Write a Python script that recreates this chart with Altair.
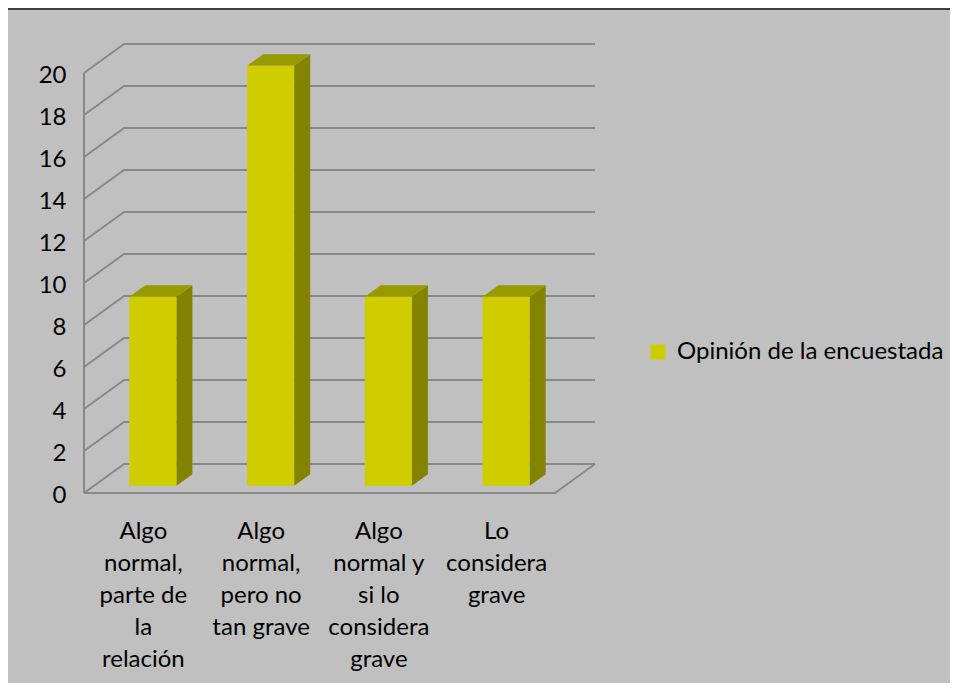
import altair as alt
import pandas as pd

# ---------------- data ----------------
categories = [
    "Algo normal, parte de la relación",
    "Algo normal, pero no tan grave",
    "Algo normal y si lo considera grave",
    "Lo considera grave",
]
label_lines = [
    "Algo|normal,|parte de|la|relación",
    "Algo|normal,|pero no|tan grave",
    "Algo|normal y|si lo|considera|grave",
    "Lo|considera|grave",
]
values = [9, 20, 9, 9]
series_name = "Opinión de la encuestada"
y_ticks = [0, 2, 4, 6, 8, 10, 12, 14, 16, 18, 20]

# ---------------- style / projection constants ----------------
DX = 0.34      # depth offset along x (category units)
DY = 1.381     # depth offset along y (value units)
T0, T1 = 0.25, 0.65   # bar front / back depth
HALF = 0.2     # half bar width (category units)
FRONT, TOP, SIDE = "#cfcc00", "#999900", "#838300"
GRID = "#888888"
BG = "#c0c0c0"
FONT = "Lato"
FS = 24
n = len(categories)

# ---------------- derived tables ----------------
grid_rows = []
for k, v in enumerate(y_ticks):
    grid_rows += [
        {"g": f"g{k}", "o": 0, "x": 0.0, "y": v},
        {"g": f"g{k}", "o": 1, "x": DX, "y": v + DY},
        {"g": f"g{k}", "o": 2, "x": n + DX, "y": v + DY},
    ]
grid_rows += [
    {"g": "edge", "o": 0, "x": 0.0, "y": y_ticks[0]},
    {"g": "edge", "o": 1, "x": 0.0, "y": y_ticks[-1]},
    {"g": "floor", "o": 0, "x": 0.0, "y": 0.0},
    {"g": "floor", "o": 1, "x": float(n), "y": 0.0},
    {"g": "floor", "o": 2, "x": n + DX, "y": DY},
]
grid_df = pd.DataFrame(grid_rows)

front_rows, side_rows, top_rows = [], [], []
for i, (c, v) in enumerate(zip(categories, values)):
    c0 = i + 0.5
    xl0, xr0 = c0 - HALF + T0 * DX, c0 + HALF + T0 * DX
    xl1, xr1 = c0 - HALF + T1 * DX, c0 + HALF + T1 * DX
    front_rows.append({"cat": c, "series": series_name, "x": xl0, "x2": xr0,
                       "y": T0 * DY, "y2": v + T0 * DY})
    side_rows += [
        {"cat": c, "x": xr0, "y": T0 * DY, "y2": v + T0 * DY},
        {"cat": c, "x": xr1, "y": T1 * DY, "y2": v + T1 * DY},
    ]
    top_rows += [
        {"cat": c, "y": v + T0 * DY, "x": xl0, "x2": xr0},
        {"cat": c, "y": v + T1 * DY, "x": xl1, "x2": xr1},
    ]
front_df = pd.DataFrame(front_rows)
side_df = pd.DataFrame(side_rows)
top_df = pd.DataFrame(top_rows)

# ---------------- scales / axes ----------------
xs = alt.Scale(domain=[0, n + DX], nice=False, zero=False)
ys = alt.Scale(domain=[0, y_ticks[-1] + DY], nice=False, zero=False)

arr = "[" + ",".join("'" + s + "'" for s in label_lines) + "]"
x_axis = alt.Axis(
    title=None, values=[i + 0.5 for i in range(n)],
    labelExpr=f"split({arr}[floor(datum.value)], '|')",
    domain=False, ticks=False, grid=False, labelPadding=26,
    labelLineHeight=32, labelOverlap=False, labelFlush=False,
    labelFont=FONT, labelFontSize=FS, labelColor="#000000", labelAlign="center",
    labelBaseline="top",
)
y_axis = alt.Axis(
    title=None, values=y_ticks, domain=False, ticks=False, grid=False,
    labelPadding=18, labelFont=FONT, labelFontSize=FS, labelColor="#000000",
    labelOffset=2,
)

grid = alt.Chart(grid_df).mark_line(color=GRID, strokeWidth=2).encode(
    x=alt.X("x:Q", scale=xs, axis=x_axis),
    y=alt.Y("y:Q", scale=ys, axis=y_axis),
    detail="g:N",
    order="o:Q",
)

side = alt.Chart(side_df).mark_area(color=SIDE, opacity=1).encode(
    x=alt.X("x:Q", scale=xs, axis=x_axis),
    y=alt.Y("y:Q", scale=ys, axis=y_axis),
    y2="y2:Q",
    detail="cat:N",
)

top = alt.Chart(top_df).mark_area(color=TOP, opacity=1, orient="horizontal").encode(
    y=alt.Y("y:Q", scale=ys, axis=y_axis),
    x=alt.X("x:Q", scale=xs, axis=x_axis),
    x2="x2:Q",
    detail="cat:N",
)

front = alt.Chart(front_df).mark_rect(opacity=1).encode(
    x=alt.X("x:Q", scale=xs, axis=x_axis),
    x2="x2:Q",
    y=alt.Y("y:Q", scale=ys, axis=y_axis),
    y2="y2:Q",
    color=alt.Color(
        "series:N",
        scale=alt.Scale(domain=[series_name], range=[FRONT]),
        legend=alt.Legend(
            title=None, orient="none", legendX=562, legendY=296, padding=0,
            symbolType="square", symbolSize=225, symbolStrokeWidth=0,
            symbolFillColor=FRONT, labelFont=FONT, labelFontSize=FS,
            labelColor="#000000", labelOffset=7, labelLimit=400,
        ),
    ),
)

border_df = pd.DataFrame({"k": [0]})
top_border = alt.Chart(border_df).mark_rule(color="#404040", strokeWidth=2).encode(
    y=alt.value(-35), x=alt.value(-76), x2=alt.value(900)
)

chart = alt.layer(grid, side, top, front, top_border).properties(
    width=511, height=449,
    padding={"left": 76, "top": 36, "right": 355, "bottom": 190},
    autosize=alt.AutoSizeParams(type="none"),
    background=BG,
).configure_view(stroke=None)

chart.save("out.html", embed_options={"renderer": "svg", "actions": False})
